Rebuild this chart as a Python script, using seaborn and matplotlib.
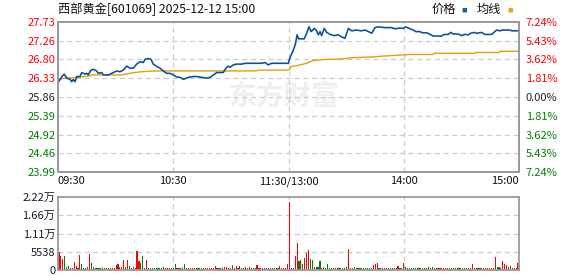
import numpy as np
import pandas as pd
import matplotlib
matplotlib.use("Agg")
import matplotlib.pyplot as plt
import seaborn as sns

sns.set_theme(style="white")
plt.rcParams['font.family'] = ['Noto Sans CJK SC', 'DejaVu Sans']

# ---------------- data ----------------
title = "西部黄金[601069] 2025-12-12 15:00"
legend_names = ["价格", "均线"]
prev_close = 25.86
price_ticks = [23.99, 24.46, 24.92, 25.39, 25.86, 26.33, 26.80, 27.26, 27.73]
pct_labels = ["7.24%", "5.43%", "3.62%", "1.81%", "0.00%", "1.81%", "3.62%", "5.43%", "7.24%"]
time_ticks = [0, 60, 120.5, 181, 241]
time_labels = ["09:30", "10:30", "11:30/13:00", "14:00", "15:00"]
vol_ticks = [0, 5538, 11075, 16613, 22150]
vol_labels = ["0", "5538", "1.11万", "1.66万", "2.22万"]

# price line vertices (minute index, price)
price_min = [0, 2.2, 3.3, 4.5, 6.3, 7.2, 8, 8.9, 9.8, 11.5, 12.4, 14.1, 15, 15.8, 17.2, 18.5,
             20.2, 21, 22.8, 23.7, 26.3, 28.9, 30.7, 32.4, 34.1, 35.9, 37.6, 39.4, 41.1, 42.9,
             44.6, 45.5, 47.2, 48.6, 49.8, 51.6, 53.3, 55, 56.8, 58.5, 60.3, 62, 63.8, 65.5,
             68.1, 70.7, 72.5, 75.1, 77.7, 79.5, 81.2, 83, 86.4, 87.8, 89, 89.9, 91.6, 93.4,
             96, 97.8, 100.4, 103.9, 106.5, 108.2, 109.9, 111.7, 116, 120.4,
             121, 122, 123, 124, 125, 125.8, 128.7, 130, 131.2, 132.3, 134, 135.2, 136.1, 137,
             137.8, 139.2, 140.5, 142.2, 144.4, 146.5, 148.3, 150, 151.8, 153.5, 156.1, 158.4,
             160.5, 162.2, 164, 165.7, 167.4, 170.9, 174.4, 176.2, 178.8, 180.5, 181.7, 183.6,
             185.7, 187.1, 189.2, 190.6, 192.9, 194.5, 196.2, 200.6, 201.8, 204, 205.3, 206.6,
             209.2, 211, 211.9, 212.7, 214.5, 215.7, 217.5, 218.9, 221.5, 223.2, 226.7, 227.9,
             229.3, 231, 232.4, 236.3, 237.2, 241]
price_val = [26.22, 26.38, 26.43, 26.33, 26.30, 26.24, 26.30, 26.24, 26.37, 26.37, 26.47, 26.43,
             26.45, 26.41, 26.53, 26.55, 26.51, 26.45, 26.47, 26.41, 26.41, 26.47, 26.51, 26.49,
             26.53, 26.63, 26.58, 26.58, 26.68, 26.74, 26.72, 26.80, 26.82, 26.80, 26.68, 26.62,
             26.58, 26.51, 26.45, 26.45, 26.41, 26.36, 26.35, 26.30, 26.35, 26.37, 26.37, 26.35,
             26.33, 26.35, 26.41, 26.47, 26.47, 26.58, 26.63, 26.60, 26.66, 26.68, 26.68, 26.70,
             26.70, 26.70, 26.70, 26.72, 26.66, 26.70, 26.70, 26.70,
             26.80, 26.92, 27.03, 27.16, 27.41, 27.31, 27.31, 27.45, 27.61, 27.49, 27.57, 27.51,
             27.41, 27.49, 27.39, 27.57, 27.47, 27.42, 27.39, 27.41, 27.36, 27.32, 27.57, 27.51,
             27.53, 27.51, 27.53, 27.49, 27.45, 27.59, 27.61, 27.59, 27.59, 27.56, 27.58, 27.57,
             27.61, 27.57, 27.53, 27.49, 27.49, 27.46, 27.46, 27.42, 27.38, 27.38, 27.42, 27.42,
             27.47, 27.43, 27.43, 27.39, 27.41, 27.42, 27.41, 27.45, 27.47, 27.45, 27.47, 27.42,
             27.42, 27.47, 27.53, 27.51, 27.53, 27.53, 27.51, 27.51]

# average price line vertices
avg_min = [0, 3.7, 10.6, 15.8, 17.6, 33.3, 35, 40.3, 43.8, 50.7, 103.5, 104.5, 120,
           121, 122, 124.8, 128.2, 130, 131.7, 133.5, 136, 140.5, 145.7, 150.9, 153.5,
           164.8, 170, 180.5, 184, 196.2, 196.5, 218, 218.5, 230.7, 231, 241]
avg_val = [26.30, 26.33, 26.35, 26.38, 26.41, 26.41, 26.43, 26.47, 26.49, 26.51, 26.51, 26.53, 26.53,
           26.55, 26.62, 26.64, 26.68, 26.70, 26.74, 26.77, 26.78, 26.80, 26.80, 26.82, 26.84,
           26.86, 26.88, 26.91, 26.92, 26.92, 26.95, 26.95, 26.97, 26.97, 27.00, 27.00]

# per-minute volume (09:30 .. 15:00)
vol_am1 = [5400, 4400, 3300, 4400, 900, 1200, 600, 600, 2400, 1200,
           600, 4700, 1700, 600, 600, 900, 5000, 2000, 900, 600,
           600, 600, 600, 600, 600, 600, 600, 600, 600, 600,
           1600, 1800, 900, 900, 2900, 900, 2900, 1200, 600, 900,
           600, 5700, 2600, 2000, 4100, 600, 2900, 600, 600, 600,
           600, 600, 600, 600, 600, 900, 600, 600, 600, 600,
           600]
dir_am1 = "RRRGGGRRRR" "GRGGGRRGRG" "GGGGGRRRRR" "RRGRRRRGRR" "RRRGGGRRGG" "GGGGGGRRRR" "R"
vol_am2 = [1700, 600, 600, 600, 600, 1700, 600, 600, 600, 600,
           600, 600, 600, 600, 600, 600, 600, 600, 600, 600,
           600, 1100, 600, 600, 600, 600, 900, 900, 600, 600,
           1400, 600, 1100, 600, 1100, 600, 600, 800, 600, 800,
           600, 600, 600, 1400, 600, 600, 600, 600, 600, 600,
           600, 600, 600, 600, 600, 1100, 600, 600, 600, 1700]
dir_am2 = "GRGRRGRRRR" "RGGGRGRRRR" "RRRGRGRRRG" "RGRGRGGRRR" "GGGRRRRRGG" "RGRGGRRRRR"
vol_pm1 = [20700, 600, 600, 4200, 8300, 2800, 3000, 1900, 3600, 5100,
           6000, 3300, 3000, 900, 900, 900, 2800, 600, 900, 600,
           1700, 600, 600, 600, 600, 600, 600, 600, 600, 600,
           900, 6400, 600, 600, 900, 600, 600, 600, 600, 600,
           600, 600, 600, 600, 1600, 1900, 2100, 600, 600, 600,
           600, 600, 600, 600, 600, 600, 600, 1200, 600, 600]
dir_pm1 = "RRRRRGRGRR" "RGGRGGGRRG" "GGGGRRGGGG" "RRGGRRGGGR" "GGGGRRRGGR" "RGGRGRGRGG"
vol_pm2 = [2200, 1000, 600, 600, 600, 600, 600, 600, 600, 600,
           600, 600, 600, 800, 600, 1000, 600, 600, 600, 600,
           600, 600, 600, 600, 600, 600, 600, 600, 600, 600,
           600, 600, 600, 600, 600, 600, 1900, 600, 600, 600,
           600, 600, 600, 600, 600, 600, 600, 600, 4000, 1000,
           1000, 600, 2800, 1900, 1600, 1000, 1300, 600, 600, 600,
           2200]
dir_pm2 = "RRGGGGGRGR" "GGGGRGRRGR" "RRRRGGRRGG" "GRGGRRRGRG" "RGRGRRRRRG" "GRRRRRGRRR" "R"

# ---------------- styling ----------------
W, H = 578, 276
BLUE = "#0a4f9e"
GOLD = "#e0a10a"
RED = "#ff0000"
GREEN = "#008000"
GRID = "#cccccc"
FRAME = "#9a9a9a"

volume = vol_am1 + vol_am2 + vol_pm1 + vol_pm2
direction = list(dir_am1 + dir_am2 + dir_pm1 + dir_pm2)
n = min(len(volume), len(direction))
vol_df = pd.DataFrame({"t": np.arange(n), "vol": volume[:n], "dir": direction[:n]})

fig = plt.figure(figsize=(W / 100, H / 100), dpi=100)
ax = fig.add_axes([58 / W, 1 - 172 / H, 461 / W, 150 / H])
axv = fig.add_axes([58 / W, 1 - 270 / H, 461 / W, 73 / H])

XMAX = 241
# --- price panel ---
ax.set_xlim(0, XMAX)
ax.set_ylim(price_ticks[0], price_ticks[-1])
for v in price_ticks[1:-1]:
    ax.axhline(v, color=GRID, lw=0.9, ls=(0, (4, 3)), zorder=1)
for t in time_ticks[1:-1]:
    ax.axvline(t, color=GRID, lw=0.9, ls=(0, (4, 3)), zorder=1)

ax.text(0.49, 0.5, "东方财富", transform=ax.transAxes, ha="center", va="center",
        fontsize=20, fontweight="bold", color="#efefef", zorder=0)

sns.lineplot(x=avg_min, y=avg_val, ax=ax, color=GOLD, lw=1.0, estimator=None, sort=False, zorder=3)
sns.lineplot(x=price_min, y=price_val, ax=ax, color=BLUE, lw=1.15, estimator=None, sort=False, zorder=4)

ax.set_xlim(0, XMAX)
ax.set_ylim(price_ticks[0], price_ticks[-1])
ax.set_yticks(price_ticks)
ax.set_yticklabels([f"{v:.2f}" for v in price_ticks])
ax.set_xticks(time_ticks)
ax.set_xticklabels(time_labels)
ax.set_xlabel("")
ax.set_ylabel("")
ax.tick_params(axis="both", length=0, labelsize=8)
ax.tick_params(axis="y", pad=2)
ax.tick_params(axis="x", pad=3)
for lbl, v in zip(ax.get_yticklabels(), price_ticks):
    lbl.set_color(RED if v > prev_close + 1e-9 else (GREEN if v < prev_close - 1e-9 else "#222222"))
xl = ax.get_xticklabels()
xl[0].set_ha("left")
xl[-1].set_ha("right")
for lbl in xl:
    lbl.set_color("#111111")

ax2 = ax.twinx()
ax2.set_ylim(price_ticks[0], price_ticks[-1])
ax2.set_yticks(price_ticks)
ax2.set_yticklabels(pct_labels)
ax2.tick_params(axis="y", length=0, labelsize=8, pad=5)
for lbl, v in zip(ax2.get_yticklabels(), price_ticks):
    lbl.set_color(RED if v > prev_close + 1e-9 else (GREEN if v < prev_close - 1e-9 else "#222222"))

for a in (ax, ax2):
    for s in a.spines.values():
        s.set_color(FRAME)
        s.set_linewidth(1.3)

# --- volume panel ---
for v in vol_ticks[1:-1]:
    axv.axhline(v, color=GRID, lw=0.9, ls=(0, (4, 3)), zorder=0)
for t in time_ticks[1:-1]:
    axv.axvline(t, color=GRID, lw=0.9, ls=(0, (4, 3)), zorder=0)
sns.barplot(data=vol_df, x="t", y="vol", hue="dir", palette={"R": RED, "G": GREEN},
            native_scale=True, dodge=False, legend=False, width=0.6, saturation=1,
            linewidth=0, ax=axv, zorder=2)
for p in axv.patches:
    p.set_antialiased(False)
axv.set_xlim(-0.5, XMAX + 0.5)
axv.set_ylim(0, 22152)
axv.set_yticks(vol_ticks)
axv.set_yticklabels(vol_labels)
axv.set_xticks([])
axv.set_xlabel("")
axv.set_ylabel("")
axv.tick_params(axis="y", length=0, labelsize=8, pad=2, colors="#1a1a2a")
for s in axv.spines.values():
    s.set_color(FRAME)
    s.set_linewidth(1.3)

# --- header ---
fig.text(58 / W, 1 - 9 / H, title, ha="left", va="center", fontsize=8.8, color="#111111")
fig.text(432 / W, 1 - 9 / H, legend_names[0], ha="left", va="center", fontsize=8.8, color="#111111")
fig.text(461 / W, 1 - 10 / H, "■", ha="left", va="center", fontsize=4, color="#1a5ea8")
fig.text(477 / W, 1 - 9 / H, legend_names[1], ha="left", va="center", fontsize=8.8, color="#111111")
fig.text(507 / W, 1 - 10 / H, "■", ha="left", va="center", fontsize=4, color="#e8a317")

fig.savefig("out.png", dpi=100)
